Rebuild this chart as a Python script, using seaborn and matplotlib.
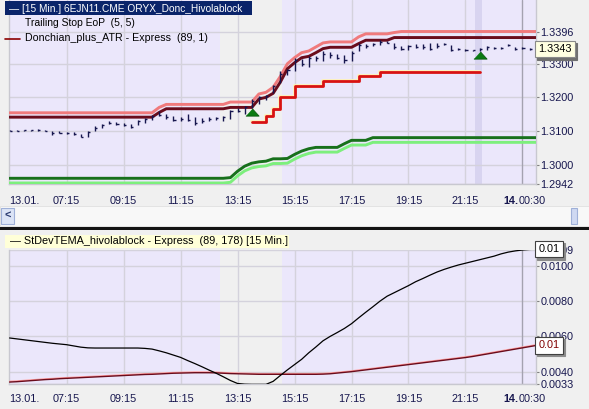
import numpy as np
import pandas as pd
import matplotlib
matplotlib.use('Agg')
import matplotlib.pyplot as plt
from matplotlib.patches import Rectangle
from matplotlib.lines import Line2D
import seaborn as sns

# ---- values: 15 minute bars, bar 0 = 05:15 on 13.01. ----
tick_pos = [8, 16, 24, 32, 40, 48, 56, 64]
tick_labels = ['07:15', '09:15', '11:15', '13:15', '15:15', '17:15', '19:15', '21:15']
day_start_label = '13.01.'
day_break_pos = 72
day_break_labels = ['14.', '00:30']

price_high = [1.3103, 1.3102, 1.3103, 1.3104, 1.3105, 1.3104, 1.3101, 1.3099, 1.3096, 1.3096,
              1.3091, 1.3101, 1.3114, 1.3121, 1.3129, 1.3127, 1.3124, 1.3121, 1.3134, 1.3139,
              1.3147, 1.3159, 1.3149, 1.3144, 1.3141, 1.3151, 1.3141, 1.3139, 1.3141, 1.3141,
              1.3144, 1.3163, 1.3169, 1.3174, 1.3194, 1.3203, 1.3208, 1.3238, 1.3278, 1.3283,
              1.3318, 1.3313, 1.3322, 1.3322, 1.3339, 1.3336, 1.3328, 1.3325, 1.3337, 1.3362,
              1.3359, 1.3362, 1.3372, 1.3367, 1.3362, 1.3352, 1.3357, 1.3359, 1.3359, 1.3362,
              1.3362, 1.3362, 1.3355, 1.3347, 1.3345, 1.3342, 1.3347, 1.3352, 1.3349, 1.3350,
              1.3359, 1.3349, 1.3349, 1.3347, 1.3345]
price_low = [1.3101, 1.3100, 1.3099, 1.3099, 1.3101, 1.3099, 1.3089, 1.3093, 1.3091, 1.3089,
             1.3081, 1.3081, 1.3101, 1.3109, 1.3121, 1.3119, 1.3114, 1.3109, 1.3119, 1.3125,
             1.3134, 1.3144, 1.3137, 1.3129, 1.3129, 1.3129, 1.3119, 1.3124, 1.3129, 1.3134,
             1.3131, 1.3137, 1.3157, 1.3151, 1.3169, 1.3179, 1.3191, 1.3213, 1.3243, 1.3268,
             1.3278, 1.3293, 1.3290, 1.3308, 1.3308, 1.3318, 1.3313, 1.3303, 1.3308, 1.3337,
             1.3347, 1.3352, 1.3357, 1.3362, 1.3345, 1.3342, 1.3342, 1.3347, 1.3345, 1.3342,
             1.3347, 1.3355, 1.3339, 1.3342, 1.3339, 1.3337, 1.3339, 1.3342, 1.3345, 1.3345,
             1.3352, 1.3342, 1.3345, 1.3342, 1.3339]
price_close = [1.3101, 1.3101, 1.3102, 1.3103, 1.3103, 1.3100, 1.3093, 1.3095, 1.3093, 1.3090,
               1.3083, 1.3098, 1.3110, 1.3119, 1.3125, 1.3122, 1.3117, 1.3112, 1.3130, 1.3136,
               1.3144, 1.3148, 1.3140, 1.3133, 1.3136, 1.3133, 1.3124, 1.3130, 1.3135, 1.3138,
               1.3141, 1.3160, 1.3160, 1.3170, 1.3190, 1.3200, 1.3205, 1.3235, 1.3270, 1.3280,
               1.3310, 1.3300, 1.3318, 1.3318, 1.3330, 1.3325, 1.3318, 1.3310, 1.3333, 1.3355,
               1.3352, 1.3360, 1.3365, 1.3363, 1.3350, 1.3345, 1.3352, 1.3350, 1.3350, 1.3345,
               1.3352, 1.3358, 1.3342, 1.3345, 1.3342, 1.3340, 1.3345, 1.3350, 1.3347, 1.3348,
               1.3355, 1.3345, 1.3347, 1.3345, 1.3343]

donchian_atr = ([1.3154] * 21 + [1.3170] + [1.3179] * 9 + [1.3186] * 4 +
                [1.3210, 1.3215, 1.3230, 1.3262, 1.3300, 1.3318, 1.3333, 1.3338, 1.3350, 1.3362] +
                [1.3365] * 4 + [1.3380] + [1.3389] * 4 + [1.3393] + [1.3396] * 20)
donchian = ([1.3141] * 21 + [1.3155] + [1.3166] * 9 + [1.3170] * 4 +
            [1.3195, 1.3200, 1.3212, 1.3245, 1.3285, 1.3303, 1.3318, 1.3322, 1.3333, 1.3345] +
            [1.3349] * 4 + [1.3360] + [1.3370] * 4 + [1.3378] * 21)
stop_start = 34
trailing_stop = ([1.3126, 1.3126, 1.3144, 1.3166, 1.3200, 1.3200] + [1.3235] * 4 +
                 [1.3248] * 5 + [1.3263] * 3 + [1.3274] * 15)
lower_atr = ([1.2959] * 31 +
             [1.2961, 1.2980, 1.2995, 1.3004, 1.3008, 1.3010, 1.3017, 1.3017, 1.3018, 1.3030, 1.3040, 1.3047] +
             [1.3051] * 4 + [1.3062, 1.3072, 1.3072, 1.3072] + [1.3080] * 24)
lower_donchian = ([1.2945] * 31 +
                  [1.2947, 1.2966, 1.2981, 1.2990, 1.2994, 1.2996, 1.3003, 1.3003, 1.3004, 1.3016, 1.3026, 1.3033] +
                  [1.3037] * 4 + [1.3048, 1.3058, 1.3058, 1.3058] + [1.3066] * 24)
signal_bars = [34, 66]
signal_prices = [1.3155, 1.3326]
last_price = 1.3343
price_ticks = [1.2942, 1.3000, 1.3100, 1.3200, 1.3300, 1.3396]

stdev_tema = [0.00591, 0.00586, 0.00581, 0.00576, 0.00571, 0.00566, 0.00561, 0.00557, 0.00553, 0.00546,
              0.00539, 0.00535, 0.00534, 0.00534, 0.00534, 0.00534, 0.00534, 0.00534, 0.00534, 0.00532,
              0.00528, 0.00518, 0.00507, 0.00494, 0.00481, 0.00463, 0.00446, 0.00428, 0.00409, 0.00391,
              0.00371, 0.00350, 0.00333, 0.00329, 0.00328, 0.00328, 0.00328, 0.00345, 0.00378, 0.00410,
              0.00440, 0.00470, 0.00507, 0.00540, 0.00575, 0.00600, 0.00622, 0.00645, 0.00672, 0.00705,
              0.00737, 0.00768, 0.00800, 0.00828, 0.00848, 0.00868, 0.00888, 0.00910, 0.00928, 0.00947,
              0.00965, 0.00980, 0.00993, 0.01005, 0.01015, 0.01025, 0.01035, 0.01045, 0.01055, 0.01068,
              0.01078, 0.01085, 0.01090, 0.01093, 0.01095]
stdev_avg = [0.00341, 0.00343, 0.00346, 0.00349, 0.00352, 0.00355, 0.00357, 0.00360, 0.00362, 0.00364,
             0.00366, 0.00368, 0.00370, 0.00372, 0.00374, 0.00376, 0.00378, 0.00380, 0.00382, 0.00384,
             0.00385, 0.00387, 0.00389, 0.00391, 0.00392, 0.00393, 0.00394, 0.00394, 0.00394, 0.00393,
             0.00391, 0.00389, 0.00388, 0.00387, 0.00386, 0.00385, 0.00385, 0.00385, 0.00385, 0.00385,
             0.00385, 0.00385, 0.00385, 0.00385, 0.00386, 0.00388, 0.00392, 0.00396, 0.00400, 0.00405,
             0.00410, 0.00415, 0.00420, 0.00425, 0.00430, 0.00435, 0.00440, 0.00445, 0.00450, 0.00455,
             0.00460, 0.00465, 0.00470, 0.00475, 0.00480, 0.00486, 0.00493, 0.00500, 0.00507, 0.00514,
             0.00521, 0.00528, 0.00535, 0.00542, 0.00549]
stdev_ticks = [0.0033, 0.0040, 0.0060, 0.0080, 0.0100, 0.0109]

top_title = '\u2014 [15 Min.] 6EJN11.CME ORYX_Donc_Hivolablock'
stop_title = 'Trailing Stop EoP  (5, 5)'
donchian_title = 'Donchian_plus_ATR - Express  (89, 1)'
stdev_title = '\u2014 StDevTEMA_hivolablock - Express  (89, 178) [15 Min.]'

# ---- styling ----
sns.set_style('white')
plt.rcParams['font.family'] = ['Liberation Sans', 'DejaVu Sans']

W, H = 589, 409
FS = 7.8
NAVY = '#16164e'
LAVENDER = '#ebe7fb'
GREY_BG = '#f0f0f0'
GRID = '#d4d2dc'


def fbox(x0, y0, x1, y1):
    # pixel box (y from top) -> figure fraction rect
    return [x0 / W, 1 - y1 / H, (x1 - x0) / W, (y1 - y0) / H]


def fpt(x, y):
    return x / W, 1 - y / H


def rect(fig, x0, y0, x1, y1, **kw):
    l, b, w, h = fbox(x0, y0, x1, y1)
    fig.add_artist(Rectangle((l, b), w, h, transform=fig.transFigure, **kw))


bars = np.arange(len(price_high))

fig = plt.figure(figsize=(W / 100, H / 100), dpi=100, facecolor=GREY_BG)
ax1 = fig.add_axes(fbox(9, 0, 536, 184))
ax2 = fig.add_axes(fbox(9, 250, 536, 384))


def style_panel(ax, yticks, fmt, label_pad):
    ax.set_facecolor(LAVENDER)
    ax.set_xlim(-0.08, 73.9)
    ax.axvspan(29.5, 38.3, color=GREY_BG, lw=0, zorder=0)
    ax.set_xticks(tick_pos)
    ax.set_xticklabels(tick_labels)
    ax.set_yticks(yticks)
    ax.set_yticklabels([fmt.format(v) for v in yticks])
    ax.yaxis.tick_right()
    ax.grid(True, color=GRID, lw=1)
    ax.set_axisbelow(True)
    ax.axvline(day_break_pos, color='#a4a2b0', lw=1, zorder=1)
    ax.tick_params(axis='x', length=0, pad=label_pad, labelsize=FS, labelcolor=NAVY)
    ax.tick_params(axis='y', length=2.5, width=0.8, color='#808080', pad=0.8,
                   labelsize=FS, labelcolor=NAVY)
    for s in ['left', 'bottom', 'right']:
        ax.spines[s].set_color('#c8c8d0')
        ax.spines[s].set_linewidth(1)
    ax.spines['top'].set_visible(False)
    lab = dict(xycoords=('data', 'axes fraction'), textcoords='offset points',
               va='top', fontsize=FS, color=NAVY)
    ax.annotate(day_start_label, xy=(-0.08, 0), xytext=(0, -label_pad), ha='left', **lab)
    ax.annotate(day_break_labels[0], xy=(71.4, 0), xytext=(0, -label_pad), ha='right',
                fontweight='bold', **lab)
    ax.annotate(day_break_labels[1], xy=(71.4, 0), xytext=(0, -label_pad), ha='left', **lab)
    ax.set_xlabel('')
    ax.set_ylabel('')


# ---- price panel ----
style_panel(ax1, price_ticks, '{:.4f}', 8.5)
ax1.set_ylim(1.2942, 1.34898)
ax1.axvspan(65.3, 66.3, color='#d8d4f0', lw=0, zorder=0.5)

sns.lineplot(x=bars, y=donchian_atr, ax=ax1, color='#f07a7c', lw=2.1, zorder=3)
sns.lineplot(x=bars, y=donchian, ax=ax1, color='#6a0c1c', lw=2.1, zorder=3)
sns.lineplot(x=bars, y=lower_donchian, ax=ax1, color='#7def7d', lw=2.1, zorder=3)
sns.lineplot(x=bars, y=lower_atr, ax=ax1, color='#17701b', lw=2.1, zorder=3)

stop_x = np.arange(stop_start, stop_start + len(trailing_stop))
sns.lineplot(x=stop_x - 0.12, y=np.array(trailing_stop) + 0.0003, ax=ax1, color='#fff2b8',
             lw=2.0, drawstyle='steps-post', zorder=3)
sns.lineplot(x=stop_x, y=trailing_stop, ax=ax1, color='#d81212', lw=2.0,
             drawstyle='steps-post', zorder=3)

ax1.vlines(bars, price_low, price_high, color=NAVY, lw=1.0, zorder=4)
ax1.hlines(price_close, bars, bars + 0.3, color=NAVY, lw=1.0, zorder=4)

tri = [(-1, -0.55), (1, -0.55), (0, 0.55)]
ax1.plot(signal_bars, signal_prices, ls='none', marker=tri, ms=9.5,
         mfc='#0a7a12', mec='#0a5a10', mew=0.6, zorder=5)

box_kw = dict(xycoords=('axes fraction', 'data'), textcoords='offset points',
              va='center', ha='left', fontsize=FS, annotation_clip=False)
ax1.annotate(f'{last_price:.4f}', xy=(1, last_price), xytext=(3.2, -1.6), color='#707070',
             bbox=dict(boxstyle='square,pad=0.28', fc='#707070', ec='#707070', lw=0.8), **box_kw)
ax1.annotate(f'{last_price:.4f}', xy=(1, last_price), xytext=(1.8, 0), color='black',
             bbox=dict(boxstyle='square,pad=0.28', fc='#ffffe1', ec='#8a8a8a', lw=0.8), **box_kw)

# ---- stdev panel ----
style_panel(ax2, stdev_ticks, '{:.4f}', 7.0)
ax2.set_ylim(0.0033, 0.0109)
sns.lineplot(x=bars, y=np.array(stdev_avg) + 0.00004, ax=ax2, color='#ff9a9a', lw=1.0, zorder=3)
sns.lineplot(x=bars, y=stdev_avg, ax=ax2, color='#6a0c1c', lw=1.0, zorder=3)
sns.lineplot(x=bars, y=stdev_tema, ax=ax2, color='black', lw=0.9, zorder=3)

for v, c in [(stdev_tema[-1], 'black'), (stdev_avg[-1], '#800000')]:
    ax2.annotate(f'{v:.2f}', xy=(1, v), xytext=(3.2, -1.6), color='#8c8c8c',
                 bbox=dict(boxstyle='square,pad=0.3', fc='#8c8c8c', ec='#8c8c8c', lw=0.8), **box_kw)
    ax2.annotate(f'{v:.2f}', xy=(1, v), xytext=(1.8, 0), color=c,
                 bbox=dict(boxstyle='square,pad=0.3', fc='white', ec='#404040', lw=0.8), **box_kw)

# ---- headers, legends, scrollbar ----
rect(fig, 5, 1, 252, 15, fc='#0a246a', ec='none')
fig.text(*fpt(9, 8.5), top_title, color='white', fontsize=7.3, va='center', ha='left')
fig.text(*fpt(25, 23), stop_title, color='black', fontsize=7.5, va='center', ha='left')
fig.add_artist(Line2D([5 / W, 20 / W], [1 - 38.5 / H] * 2, transform=fig.transFigure,
                      color='#8b0000', lw=1.2))
fig.text(*fpt(25, 38), donchian_title, color='black', fontsize=7.7, va='center', ha='left')

rect(fig, 0, 206, 589, 226, fc='#f8f8f8', ec='#e0e0e0', lw=0.6)
rect(fig, 1, 208, 14, 224, fc='#dce4f6', ec='#9fb0d8', lw=0.8)
fig.text(*fpt(7.5, 216), '<', color='#2a3a70', fontsize=FS, fontweight='bold', va='center', ha='center')
rect(fig, 571, 208, 577, 224, fc='#cfd9f2', ec='#9fb0d8', lw=0.8)
rect(fig, 0, 227, 589, 230, fc='#141414', ec='none')

rect(fig, 5, 235, 289, 248, fc='#ffffd8', ec='none')
fig.text(*fpt(10, 241.5), stdev_title, color='black', fontsize=FS, va='center', ha='left')

fig.savefig('out.png', dpi=100, facecolor=GREY_BG)
